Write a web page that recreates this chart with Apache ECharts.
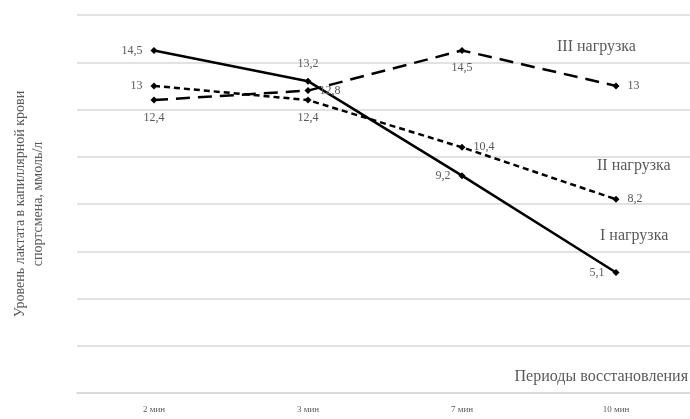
<!DOCTYPE html>
<html>
<head>
<meta charset="utf-8">
<script src="https://cdn.jsdelivr.net/npm/echarts@6/dist/echarts.min.js"></script>
<style>
  html, body { margin: 0; padding: 0; background: #fff; }
  #main { width: 690px; height: 419px; }
</style>
</head>
<body>
<div id="main"></div>
<script>
const periods = ['2 мин', '3 мин', '7 мин', '10 мин'];
const load1 = [14.5, 13.2, 9.2, 5.1];
const load2 = [13, 12.4, 10.4, 8.2];
const load3 = [12.4, 12.8, 14.5, 13];
const load1Pos = ['left', 'top', 'left', 'left'];
const load2Pos = ['left', 'bottom', 'right', 'right'];
const load3Pos = ['bottom', 'right', 'bottom', 'right'];

const serif = '"Liberation Serif", "DejaVu Serif", serif';
const txt = '#595959';

function pts(vals, pos) {
  return vals.map((v, i) => ({ value: v, label: { position: pos[i] } }));
}

function mkSeries(name, vals, pos, dash) {
  return {
    name: name,
    type: 'line',
    data: pts(vals, pos),
    symbol: 'diamond',
    symbolSize: 7,
    itemStyle: { color: '#000' },
    lineStyle: { color: '#000', width: 2.5, type: dash },
    label: {
      show: true,
      fontFamily: serif,
      fontSize: 12,
      color: txt,
      distance: 8,
      formatter: p => String(p.value).replace('.', ',')
    },
    z: 3
  };
}

const chart = echarts.init(document.getElementById('main'));
chart.setOption({
  animation: false,
  grid: { left: 77, top: 15, width: 616, height: 378, outerBoundsMode: 'none' },
  xAxis: {
    type: 'category',
    data: periods,
    axisLine: { lineStyle: { color: '#d9d9d9', width: 1.5 } },
    axisTick: { show: false },
    axisLabel: { fontFamily: serif, fontSize: 9, color: txt, margin: 12 }
  },
  yAxis: {
    type: 'value',
    min: 0,
    max: 16,
    interval: 2,
    axisLine: { show: false },
    axisTick: { show: false },
    axisLabel: { show: false },
    splitLine: { lineStyle: { color: '#d9d9d9', width: 1.5 } },
    name: 'Уровень лактата в капиллярной крови\nспортсмена, ммоль/л',
    nameLocation: 'middle',
    nameRotate: 90,
    nameGap: 30,
    nameTextStyle: { fontFamily: serif, fontSize: 14, color: txt, lineHeight: 18 }
  },
  series: [
    mkSeries('I нагрузка', load1, load1Pos, 'solid'),
    mkSeries('II нагрузка', load2, load2Pos, [6, 4]),
    mkSeries('III нагрузка', load3, load3Pos, [14, 8])
  ],
  graphic: [
    { type: 'text', left: 557, top: 39, style: { text: 'III нагрузка', font: '16px ' + serif, fill: txt } },
    { type: 'text', left: 597, top: 158, style: { text: 'II нагрузка', font: '16px ' + serif, fill: txt } },
    { type: 'text', left: 600, top: 228, style: { text: 'I нагрузка', font: '16px ' + serif, fill: txt } },
    { type: 'text', right: 2, top: 369, style: { text: 'Периоды восстановления', font: '16px ' + serif, fill: txt } }
  ]
});
</script>
</body>
</html>
